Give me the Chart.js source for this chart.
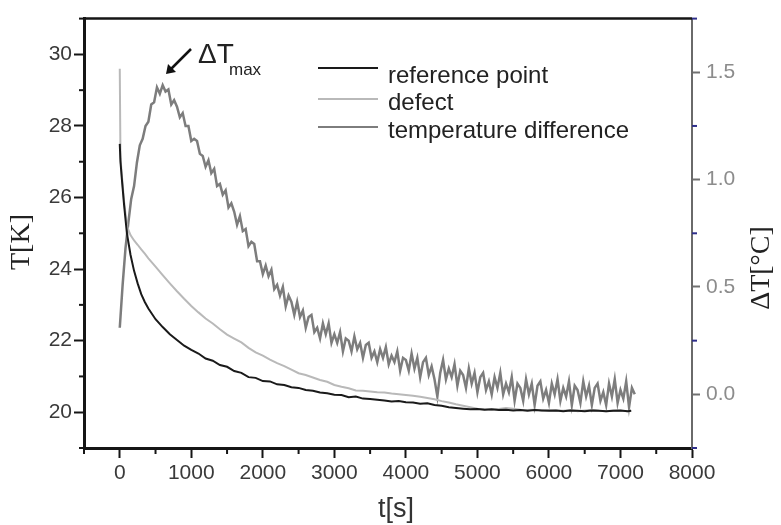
<!DOCTYPE html>
<html lang="en">
<head>
<meta charset="UTF-8" />
<title>Temperature decay</title>
<style>
  html, body { margin: 0; padding: 0; background: #fff; }
  #wrapper { width: 781px; height: 525px; }
</style>
</head>
<body>
<div id="wrapper"><canvas id="chart" width="781" height="525"></canvas></div>

<script src="https://cdn.jsdelivr.net/npm/chart.js@4/dist/chart.umd.min.js"></script>
<script>
// time grid for the two temperature curves [s]
const tSlow = [0, 10, 30, 60, 100, 150, 200, 250, 300, 350, 400, 500, 600, 700, 800, 900, 1000,
  1100, 1200, 1300, 1400, 1500, 1600, 1700, 1800, 1900, 2000,
  2100, 2200, 2300, 2400, 2500, 2600, 2700, 2800, 2900, 3000,
  3100, 3200, 3300, 3400, 3500, 3600, 3700, 3800, 3900, 4000,
  4100, 4200, 4300, 4400, 4500, 4600, 4700, 4800, 4900, 5000,
  5100, 5200, 5300, 5400, 5500, 5600, 5700, 5800, 5900, 6000,
  6100, 6200, 6300, 6400, 6500, 6600, 6700, 6800, 6900, 7000,
  7100, 7150];

// reference point [K]
const refK = [27.5, 27.0, 26.5, 25.8, 25.0, 24.4, 23.95, 23.6, 23.3, 23.08, 22.9, 22.6, 22.38, 22.18, 22.02, 21.86, 21.74,
  21.64, 21.5, 21.44, 21.32, 21.27, 21.15, 21.1, 20.98, 20.96, 20.87,
  20.86, 20.78, 20.76, 20.7, 20.68, 20.62, 20.6, 20.55, 20.53, 20.49,
  20.48, 20.42, 20.44, 20.38, 20.37, 20.35, 20.33, 20.3, 20.31, 20.28,
  20.27, 20.24, 20.25, 20.2, 20.18, 20.14, 20.12, 20.1, 20.08, 20.09,
  20.07, 20.08, 20.06, 20.07, 20.05, 20.06, 20.04, 20.06, 20.05, 20.04,
  20.05, 20.03, 20.05, 20.04, 20.03, 20.05, 20.04, 20.03, 20.04, 20.05,
  20.03, 20.04];

// defect [K]
const defectK = [29.6, 27.1, 26.6, 25.9, 25.2, 24.95, 24.8, 24.68, 24.55, 24.43, 24.3, 24.07, 23.83, 23.6, 23.38, 23.17, 22.97,
  22.79, 22.62, 22.48, 22.32, 22.17, 22.06, 21.95, 21.8, 21.67, 21.58,
  21.47, 21.37, 21.29, 21.19, 21.09, 21.04, 20.97, 20.9, 20.85, 20.76,
  20.71, 20.67, 20.61, 20.6, 20.58, 20.56, 20.55, 20.52, 20.5, 20.48,
  20.46, 20.43, 20.4, 20.36, 20.31, 20.27, 20.22, 20.18, 20.14, 20.1,
  20.08, 20.07, 20.09, 20.12, 20.1, 20.07, 20.06, 20.07, 20.05, 20.06,
  20.05, 20.04, 20.06, 20.03, 20.05, 20.07, 20.04, 20.03, 20.05, 20.04,
  20.03, 20.05];

// time grid for the (noisy) difference [s]
const tDiff = [0, 40, 80, 120, 160, 200, 240, 280, 320, 360,
  400, 440, 480, 520, 560, 600, 640, 680, 720, 760,
  800, 840, 880, 920, 960, 1000, 1040, 1080, 1120, 1160,
  1200, 1240, 1280, 1320, 1360, 1400, 1440, 1480, 1520, 1560,
  1600, 1640, 1680, 1720, 1760, 1800, 1840, 1880, 1920, 1960,
  2000, 2040, 2080, 2120, 2160, 2200, 2240, 2280, 2320, 2360,
  2400, 2440, 2480, 2520, 2560, 2600, 2640, 2680, 2720, 2760,
  2800, 2840, 2880, 2920, 2960, 3000, 3040, 3080, 3120, 3160,
  3200, 3240, 3280, 3320, 3360, 3400, 3440, 3480, 3520, 3560,
  3600, 3640, 3680, 3720, 3760, 3800, 3840, 3880, 3920, 3960,
  4000, 4040, 4080, 4120, 4160, 4200, 4240, 4280, 4320, 4360,
  4400, 4440, 4480, 4520, 4560, 4600, 4640, 4680, 4720, 4760,
  4800, 4840, 4880, 4920, 4960, 5000, 5040, 5080, 5120, 5160,
  5200, 5240, 5280, 5320, 5360, 5400, 5440, 5480, 5520, 5560,
  5600, 5640, 5680, 5720, 5760, 5800, 5840, 5880, 5920, 5960,
  6000, 6040, 6080, 6120, 6160, 6200, 6240, 6280, 6320, 6360,
  6400, 6440, 6480, 6520, 6560, 6600, 6640, 6680, 6720, 6760,
  6800, 6840, 6880, 6920, 6960, 7000, 7040, 7080, 7120, 7160,
  7200];

// temperature difference [°C]
const diffC = [0.31, 0.51, 0.68, 0.80, 0.91, 0.97, 1.08, 1.16, 1.19, 1.25,
  1.27, 1.35, 1.36, 1.43, 1.40, 1.44, 1.41, 1.42, 1.35, 1.37,
  1.34, 1.29, 1.31, 1.25, 1.25, 1.18, 1.19, 1.18, 1.12, 1.11,
  1.06, 1.09, 1.03, 1.05, 0.97, 0.98, 0.93, 0.95, 0.87, 0.89,
  0.85, 0.79, 0.83, 0.76, 0.77, 0.69, 0.71, 0.70, 0.62, 0.62,
  0.56, 0.60, 0.55, 0.58, 0.49, 0.51, 0.46, 0.50, 0.41, 0.46,
  0.43, 0.37, 0.43, 0.36, 0.39, 0.31, 0.36, 0.37, 0.29, 0.31,
  0.26, 0.33, 0.28, 0.33, 0.24, 0.28, 0.24, 0.29, 0.20, 0.26,
  0.25, 0.20, 0.27, 0.21, 0.24, 0.17, 0.23, 0.24, 0.17, 0.20,
  0.15, 0.21, 0.17, 0.22, 0.14, 0.18, 0.15, 0.20, 0.11, 0.17,
  0.16, 0.11, 0.19, 0.12, 0.17, 0.08, 0.15, 0.17, 0.09, 0.13,
  0.07, -0.01, 0.10, 0.16, 0.07, 0.12, 0.08, 0.14, 0.04, 0.11,
  0.09, 0.03, 0.12, 0.05, 0.10, 0.01, 0.08, 0.10, 0.02, 0.06,
  0.00, 0.08, 0.03, 0.10, 0.00, 0.05, 0.01, 0.08, -0.03, 0.05,
  0.03, -0.03, 0.07, 0.00, 0.05, -0.05, 0.04, 0.06, -0.02, 0.02,
  -0.04, 0.05, 0.00, 0.07, -0.03, 0.03, -0.01, 0.06, -0.05, 0.04,
  0.02, -0.04, 0.06, -0.01, 0.04, -0.05, 0.03, 0.05, -0.03, 0.01,
  -0.05, 0.05, -0.01, 0.07, -0.04, 0.02, -0.02, 0.06, -0.06, 0.03,
  0.00];

// axis ticks
const xTicks = [0, 1000, 2000, 3000, 4000, 5000, 6000, 7000, 8000];
const xMinor = [-500, 500, 1500, 2500, 3500, 4500, 5500, 6500, 7500];
const yTicks = [20, 22, 24, 26, 28, 30];
const yMinor = [19, 21, 23, 25, 27, 29, 31];
const y1Ticks = [0, 0.5, 1.0, 1.5];
const y1Minor = [-0.25, 0.25, 0.75, 1.25, 1.75];

const SANS = 'Liberation Sans';
const SERIF = 'Liberation Serif';

function pts(xs, ys) {
    return xs.map((x, i) => ({ x: x, y: ys[i] }));
}

// frame, minor ticks, legend, titles, annotation
const extras = {
    id: 'extras',
    afterDraw(chart) {
        const c = chart.ctx;
        const a = chart.chartArea;
        const sx = chart.scales.x, sy = chart.scales.y, sr = chart.scales.y1;
        c.save();

        // top frame line
        c.strokeStyle = '#151515';
        c.lineWidth = 2.5;
        c.beginPath();
        c.moveTo(a.left, a.top);
        c.lineTo(a.right, a.top);
        c.stroke();

        // minor ticks
        c.lineWidth = 2;
        yMinor.forEach(v => {
            const y = sy.getPixelForValue(v);
            c.beginPath(); c.moveTo(a.left - 5, y); c.lineTo(a.left, y); c.stroke();
        });
        xMinor.forEach(v => {
            const x = sx.getPixelForValue(v);
            c.beginPath(); c.moveTo(x, a.bottom); c.lineTo(x, a.bottom + 6); c.stroke();
        });
        c.strokeStyle = '#2e2e8a';
        y1Minor.forEach(v => {
            const y = sr.getPixelForValue(v);
            c.beginPath(); c.moveTo(a.right, y); c.lineTo(a.right + 5, y); c.stroke();
        });

        // legend
        const rows = [{ ly: 68, ty: 83 }, { ly: 99, ty: 110 }, { ly: 127, ty: 138 }];
        c.font = '24px "' + SANS + '"';
        c.textAlign = 'left';
        c.textBaseline = 'alphabetic';
        chart.data.datasets.forEach((ds, i) => {
            const r = rows[i];
            c.strokeStyle = ds.borderColor;
            c.lineWidth = 2;
            c.beginPath(); c.moveTo(318, r.ly); c.lineTo(378, r.ly); c.stroke();
            c.fillStyle = '#222';
            c.fillText(ds.label, 388, r.ty);
        });

        // axis titles
        c.fillStyle = '#222';
        c.font = '28px "' + SERIF + '"';
        c.textAlign = 'center';
        c.textBaseline = 'middle';
        c.save();
        c.translate(22, 242);
        c.rotate(-Math.PI / 2);
        c.fillText('T[K]', 0, 0);
        c.restore();
        c.save();
        c.translate(762, 268);
        c.rotate(-Math.PI / 2);
        c.fillText('ΔT[°C]', 0, 0);
        c.restore();

        c.font = '27px "' + SANS + '"';
        c.textBaseline = 'alphabetic';
        c.fillStyle = '#333';
        c.fillText('t[s]', 396, 517);

        // ΔTmax annotation with arrow
        c.strokeStyle = '#111';
        c.fillStyle = '#111';
        c.lineWidth = 2.5;
        c.beginPath(); c.moveTo(191, 49); c.lineTo(171, 69); c.stroke();
        c.beginPath();
        c.moveTo(166, 74);
        c.lineTo(168, 64);
        c.lineTo(176, 72);
        c.closePath();
        c.fill();

        c.fillStyle = '#222';
        c.textAlign = 'left';
        c.font = '28px "' + SANS + '"';
        c.fillText('ΔT', 198, 63);
        c.font = '17px "' + SANS + '"';
        c.fillText('max', 229, 75);

        c.restore();
    }
};

const chart = new Chart('chart', {
    type: 'line',
    data: {
        datasets: [{
            label: 'reference point',
            data: pts(tSlow, refK),
            yAxisID: 'y',
            borderColor: '#1a1a1a',
            borderWidth: 2
        }, {
            label: 'defect',
            data: pts(tSlow, defectK),
            yAxisID: 'y',
            borderColor: '#b9b9b9',
            borderWidth: 2
        }, {
            label: 'temperature difference',
            data: pts(tDiff, diffC),
            yAxisID: 'y1',
            borderColor: '#7d7d7d',
            borderWidth: 2.5
        }]
    },
    options: {
        responsive: false,
        animation: false,
        devicePixelRatio: 1,
        elements: { point: { radius: 0 }, line: { tension: 0 } },
        layout: { padding: { top: 13, left: 0, right: 0, bottom: 0 } },
        plugins: {
            legend: { display: false },
            tooltip: { enabled: false }
        },
        scales: {
            x: {
                type: 'linear',
                min: -500,
                max: 8000,
                afterBuildTicks: s => { s.ticks = xTicks.map(v => ({ value: v })); },
                afterFit: s => { s.height = 77; },
                ticks: {
                    callback: v => String(v),
                    color: '#3a3a3a',
                    font: { family: SANS, size: 21 },
                    padding: 3,
                    maxRotation: 0,
                    autoSkip: false
                },
                grid: { drawOnChartArea: false, tickLength: 10, tickColor: '#151515', tickWidth: 2 },
                border: { color: '#151515', width: 3 }
            },
            y: {
                position: 'left',
                min: 19,
                max: 31,
                afterBuildTicks: s => { s.ticks = yTicks.map(v => ({ value: v })); },
                afterFit: s => { s.width = 84; },
                ticks: {
                    callback: v => String(v),
                    color: '#3a3a3a',
                    font: { family: SANS, size: 21 },
                    padding: 2
                },
                grid: { drawOnChartArea: false, tickLength: 10, tickColor: '#151515', tickWidth: 2 },
                border: { color: '#151515', width: 3 }
            },
            y1: {
                position: 'right',
                min: -0.25,
                max: 1.75,
                afterBuildTicks: s => { s.ticks = y1Ticks.map(v => ({ value: v })); },
                afterFit: s => { s.width = 89; },
                ticks: {
                    callback: v => v.toFixed(1),
                    color: '#8c8c8c',
                    font: { family: SANS, size: 21 },
                    padding: 6
                },
                grid: { drawOnChartArea: false, tickLength: 8, tickColor: '#707070', tickWidth: 2 },
                border: { color: '#6a6a6a', width: 2 }
            }
        }
    },
    plugins: [extras]
});
</script>
</body>
</html>
